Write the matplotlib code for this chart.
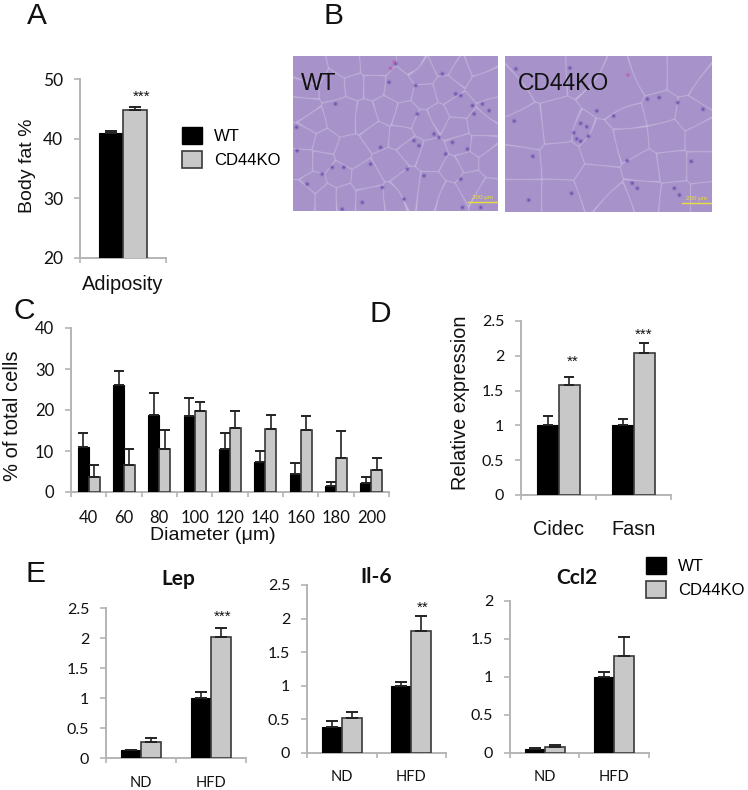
import matplotlib
matplotlib.use('Agg')
import matplotlib.pyplot as plt
import numpy as np
from matplotlib.patches import Patch

W, H = 748, 790
BLACK = '#000000'
GREY = '#c8c8c8'
EDGE = '#3a3a3a'
AXIS = '#b4b4b4'
SANS = 'Liberation Sans'
TICK = 'Lato'

# panel A
a_wt, a_wt_err = [41.0], [0.3]
a_ko, a_ko_err = [44.8], [0.5]

# panel C
c_labels = ['40', '60', '80', '100', '120', '140', '160', '180', '200']
c_wt = [10.9, 26.1, 18.9, 18.5, 10.5, 7.3, 4.5, 1.5, 2.2]
c_wt_err = [3.6, 3.3, 5.3, 4.4, 3.8, 2.8, 2.6, 0.9, 1.4]
c_ko = [3.6, 6.5, 10.6, 19.8, 15.5, 15.3, 15.2, 8.4, 5.4]
c_ko_err = [3.0, 4.0, 4.6, 2.2, 4.3, 3.6, 3.3, 6.4, 2.8]

# panel D
d_labels = ['Cidec', 'Fasn']
d_wt, d_wt_err = [1.0, 1.0], [0.13, 0.09]
d_ko, d_ko_err = [1.58, 2.04], [0.12, 0.14]

# panel E
e_labels = ['ND', 'HFD']
lep_wt, lep_wt_err = [0.13, 1.0], [0.01, 0.10]
lep_ko, lep_ko_err = [0.27, 2.02], [0.06, 0.15]
il6_wt, il6_wt_err = [0.39, 1.0], [0.08, 0.06]
il6_ko, il6_ko_err = [0.52, 1.81], [0.09, 0.23]
ccl_wt, ccl_wt_err = [0.05, 1.0], [0.01, 0.07]
ccl_ko, ccl_ko_err = [0.085, 1.28], [0.015, 0.25]

# micrograph stand-ins: cell outlines and stained spots
wt_cells = [(155,190,55),(225,195,35),(290,175,35),(340,190,40),(70,210,25),(40,165,22),(45,255,25),
            (100,270,25),(180,300,35),(260,245,30),(330,250,28),(400,215,30),(440,195,20),(505,165,28),
            (500,225,25),(565,215,30),(515,275,22),(565,280,22),(600,330,30),(530,330,25),(420,310,30),
            (360,290,25),(300,340,38),(230,380,40),(140,370,28),(75,390,25),(40,330,30),(90,330,25),
            (345,400,45),(240,430,38),(420,410,40),(490,350,18),(540,390,30),(310,425,25),(110,430,30),
            (40,430,25),(160,430,22),(170,40,25),(250,35,30),(325,110,40),(395,60,30),(460,30,30),
            (510,60,25),(470,110,30),(400,130,25),(130,105,30),(60,65,25),(250,100,22),(190,100,20),
            (580,100,40),(600,170,15),(45,110,20),(375,40,15),(560,40,22),(590,420,25),(470,430,25)]
wt_spots = [(18,225),(20,295),(135,155),(125,345),(95,365),(240,335),(370,265),(385,280),(430,245),
            (445,255),(510,130),(495,125),(545,160),(575,155),(595,175),(550,185),(315,35),(295,90),
            (375,100),(455,65),(380,185),(465,305),(485,270),(530,290),(340,440),(215,450),(155,470),
            (270,285),(160,345),(50,395),(510,380),(350,350),(400,370),(275,405),(515,465),(570,465)]
wt_pink = [(300,48),(312,30)]
ko_cells = [(75,235,55),(165,225,55),(60,330,50),(175,320,65),(60,430,55),(170,430,50),(290,280,65),
            (280,390,60),(375,260,50),(370,200,40),(425,350,45),(420,420,50),(490,250,50),(500,340,45),
            (590,250,45),(590,340,40),(510,430,40),(600,430,30),(330,110,95),(470,175,35),(560,190,40),
            (120,60,60),(250,55,45),(440,60,50),(540,60,55),(610,110,40),(25,130,25),(340,450,40),
            (235,240,18)]
ko_spots = [(40,50),(78,440),(200,47),(385,390),(400,405),(525,425),(430,140),(520,150),(595,170),
            (330,190),(90,310),(205,420),(510,405),(35,205),(280,175),(465,135),(560,325),(370,323),
            (232,212),(250,222),(255,250),(232,265),(212,240),(220,258)]
ko_pink = [(150,95),(372,68)]


def px_axes(fig, left, right, top, bottom):
    return fig.add_axes([left / W, 1 - bottom / H, (right - left) / W, (bottom - top) / H])


def bar_panel(fig, box, ylim, yticks, ylabels, labels, wt, wt_err, ko, ko_err, width, size, xsize, xpad,
              cap=3.0, xfamily=TICK):
    ax = px_axes(fig, *box)
    x = np.arange(len(labels)) + 0.5
    err_style = dict(ecolor='#222222', elinewidth=1.2, capsize=cap, capthick=1.4)
    ax.bar(x - width / 2, wt, width, color=BLACK, edgecolor=BLACK, linewidth=0.8,
           yerr=[np.zeros(len(wt)), wt_err], error_kw=err_style, zorder=3)
    ax.bar(x + width / 2, ko, width, color=GREY, edgecolor=EDGE, linewidth=1.2,
           yerr=[np.zeros(len(ko)), ko_err], error_kw=err_style, zorder=3)
    ax.set_xlim(0, len(labels))
    ax.set_ylim(*ylim)
    ax.set_yticks(yticks)
    ax.set_yticklabels(ylabels, family=TICK, fontsize=size, color='#111111')
    ax.set_xticks(np.arange(len(labels) + 1))
    ax.set_xticklabels([])
    ax.set_xticks(x, minor=True)
    ax.set_xticklabels(labels, minor=True, family=xfamily, fontsize=xsize, color='#111111')
    ax.tick_params(axis='x', which='minor', length=0, pad=xpad)
    ax.tick_params(axis='x', which='major', length=3.8, width=1.2, color=AXIS, direction='out')
    ax.tick_params(axis='y', length=4.5, width=1.2, color=AXIS, pad=7.5)
    for s in ['top', 'right']:
        ax.spines[s].set_visible(False)
    for s in ['left', 'bottom']:
        ax.spines[s].set_color(AXIS)
        ax.spines[s].set_linewidth(1.4)
    return ax


def tissue_image(cells, spots, pink):
    # weighted Voronoi of the read cell positions gives the thin cell walls
    yy, xx = np.mgrid[12:476, 8:622]
    dist = np.stack([np.hypot(xx - cx, yy - cy) - 0.5 * r for cx, cy, r in cells])
    dist.sort(axis=0)
    wall = np.exp(-((dist[1] - dist[0]) / 2.2) ** 2)
    base = np.array([0.655, 0.58, 0.79])
    light = np.array([0.79, 0.74, 0.88])
    dark = np.array([0.38, 0.22, 0.65])
    rose = np.array([0.72, 0.30, 0.66])
    img = base + wall[..., None] * (light - base)
    for marks, col in [(spots, dark), (pink, rose)]:
        for sx, sy in marks:
            a = 0.85 * np.exp(-((xx - sx) ** 2 + (yy - sy) ** 2) / 2 / 3.5 ** 2)
            img = img * (1 - a[..., None]) + col * a[..., None]
    return img


def photo(fig, box, cells, spots, pink, label, label_x):
    ax = px_axes(fig, *box)
    ax.imshow(tissue_image(cells, spots, pink), extent=(8, 622, 476, 12), aspect='auto', interpolation='antialiased')
    ax.set_xticks([])
    ax.set_yticks([])
    for s in ax.spines.values():
        s.set_visible(False)
    ax.plot([532, 618], [448, 448], color='#e8e03c', lw=1.0)
    ax.text(575, 442, '200 μm', color='#e8e03c', fontsize=4.5, ha='center', va='bottom', family=SANS)
    ax.text(label_x, 94, label, fontsize=16.5, family=SANS, color='#111111', va='center')
    return ax


def legend(fig, x, y):
    handles = [Patch(facecolor=BLACK, edgecolor=BLACK), Patch(facecolor=GREY, edgecolor=EDGE, linewidth=1.2)]
    return fig.legend(handles, ['WT', 'CD44KO'], loc='upper left', bbox_to_anchor=(x / W, 1 - y / H),
                      frameon=False, handlelength=1.2, handleheight=1.2, labelspacing=0.4,
                      handletextpad=0.7, borderpad=0, borderaxespad=0, prop={'family': SANS, 'size': 12})


def ftext(fig, x, y, s, **kw):
    kw.setdefault('family', SANS)
    kw.setdefault('color', '#111111')
    fig.text(x / W, 1 - y / H, s, ha=kw.pop('ha', 'center'), va=kw.pop('va', 'center'), **kw)


fig = plt.figure(figsize=(W / 100, H / 100), dpi=100)

# A
bar_panel(fig, (80, 166, 79, 258), (20, 50), [20, 30, 40, 50], ['20', '30', '40', '50'],
          ['Adiposity'], a_wt, a_wt_err, a_ko, a_ko_err, 0.28, 12.5, 14.4, 12.5, cap=4.0, xfamily=SANS)
ftext(fig, 37, 16, 'A', fontsize=21.5)
ftext(fig, 28, 166, 'Body fat %', fontsize=14, rotation=90)
ftext(fig, 142, 97, '***', fontsize=11)
legend(fig, 182, 127)

# B
ftext(fig, 333, 16, 'B', fontsize=21.5)
photo(fig, (293, 498, 56, 211), wt_cells, wt_spots, wt_pink, 'WT', 32)
photo(fig, (505, 712, 56, 212), ko_cells, ko_spots, ko_pink, 'CD44KO', 45)

# C
bar_panel(fig, (71, 389, 328, 492), (0, 40), [0, 10, 20, 30, 40], ['0', '10', '20', '30', '40'],
          c_labels, c_wt, c_wt_err, c_ko, c_ko_err, 0.31, 12, 12, 13.2, cap=3.3)
ftext(fig, 24, 311, 'C', fontsize=21.5)
ftext(fig, 12, 416, '% of total cells', fontsize=14.5, rotation=90)
ftext(fig, 213, 535, 'Diameter (μm)', fontsize=14)

# D
bar_panel(fig, (521, 671, 321, 495), (0, 2.5), [0, 0.5, 1, 1.5, 2, 2.5], ['0', '0.5', '1', '1.5', '2', '2.5'],
          d_labels, d_wt, d_wt_err, d_ko, d_ko_err, 0.29, 11.5, 14.3, 18, cap=3.6, xfamily=SANS)
ftext(fig, 380, 314, 'D', fontsize=21.5)
ftext(fig, 461, 403, 'Relative expression', fontsize=14.3, rotation=90)
ftext(fig, 573, 362, '**', fontsize=11)
ftext(fig, 644, 335, '***', fontsize=11)

# E
bar_panel(fig, (106, 246, 608, 758), (0, 2.5), [0, 0.5, 1, 1.5, 2, 2.5], ['0', '0.5', '1', '1.5', '2', '2.5'],
          e_labels, lep_wt, lep_wt_err, lep_ko, lep_ko_err, 0.29, 11.5, 10.5, 13, cap=4.0)
bar_panel(fig, (307, 446, 585, 753), (0, 2.5), [0, 0.5, 1, 1.5, 2, 2.5], ['0', '0.5', '1', '1.5', '2', '2.5'],
          e_labels, il6_wt, il6_wt_err, il6_ko, il6_ko_err, 0.29, 11.5, 10.5, 12, cap=4.0)
bar_panel(fig, (510, 649, 601, 753), (0, 2), [0, 0.5, 1, 1.5, 2], ['0', '0.5', '1', '1.5', '2'],
          e_labels, ccl_wt, ccl_wt_err, ccl_ko, ccl_ko_err, 0.29, 11.5, 10.5, 12, cap=4.0)
ftext(fig, 35, 574, 'E', fontsize=21.5)
ftext(fig, 178, 579, 'Lep', fontsize=15, fontweight='bold', family=TICK)
ftext(fig, 376, 577, 'Il-6', fontsize=15, fontweight='bold', family=TICK)
ftext(fig, 577, 578, 'Ccl2', fontsize=15, fontweight='bold', family=TICK)
ftext(fig, 223, 617, '***', fontsize=11)
ftext(fig, 423, 608, '**', fontsize=11)
legend(fig, 646, 557)

fig.savefig('out.png', dpi=100)
